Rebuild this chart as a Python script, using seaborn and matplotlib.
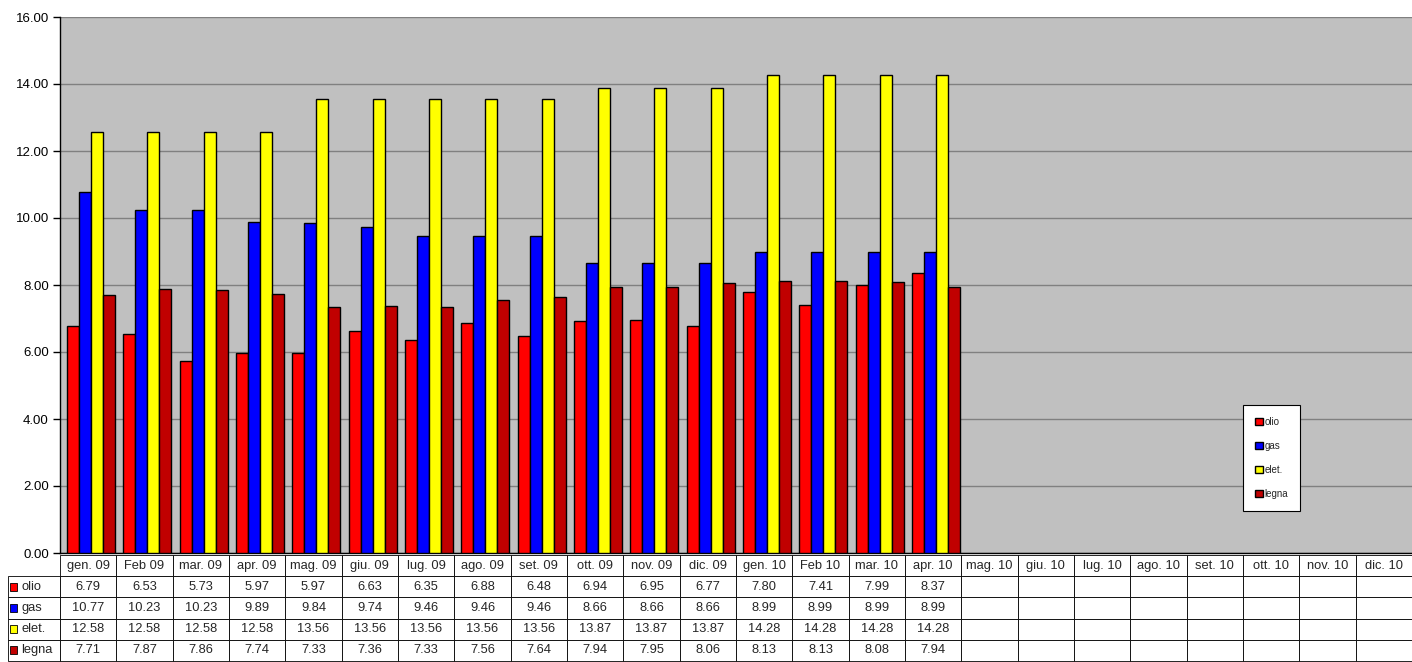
import numpy as np
import pandas as pd
import matplotlib
matplotlib.use("Agg")
import matplotlib.pyplot as plt
import seaborn as sns
from matplotlib.patches import Rectangle
from matplotlib.ticker import FormatStrFormatter

months = ["gen. 09", "Feb 09", "mar. 09", "apr. 09", "mag. 09", "giu. 09", "lug. 09",
          "ago. 09", "set. 09", "ott. 09", "nov. 09", "dic. 09", "gen. 10", "Feb 10",
          "mar. 10", "apr. 10", "mag. 10", "giu. 10", "lug. 10", "ago. 10", "set. 10",
          "ott. 10", "nov. 10", "dic. 10"]
olio = [6.79, 6.53, 5.73, 5.97, 5.97, 6.63, 6.35, 6.88, 6.48, 6.94, 6.95, 6.77, 7.80, 7.41, 7.99, 8.37]
gas = [10.77, 10.23, 10.23, 9.89, 9.84, 9.74, 9.46, 9.46, 9.46, 8.66, 8.66, 8.66, 8.99, 8.99, 8.99, 8.99]
elet = [12.58, 12.58, 12.58, 12.58, 13.56, 13.56, 13.56, 13.56, 13.56, 13.87, 13.87, 13.87, 14.28, 14.28, 14.28, 14.28]
legna = [7.71, 7.87, 7.86, 7.74, 7.33, 7.36, 7.33, 7.56, 7.64, 7.94, 7.95, 8.06, 8.13, 8.13, 8.08, 7.94]
series_names = ["olio", "gas", "elet.", "legna"]
series_values = [olio, gas, elet, legna]
colors = ["#FF0000", "#0000FF", "#FFFF00", "#C00000"]

rows = []
for name, vals in zip(series_names, series_values):
    for m, v in zip(months, vals):
        rows.append({"month": m, "series": name, "value": v})
df = pd.DataFrame(rows)

sns.set_theme(style="white")
plt.rcParams["font.family"] = ["Liberation Sans", "DejaVu Sans"]

fig = plt.figure(figsize=(14.12, 6.62), dpi=100)
ax = fig.add_axes([60 / 1412, 1 - 553 / 662, 1352 / 1412, 536 / 662])
ax.set_facecolor("#C0C0C0")

sns.barplot(data=df, x="month", y="value", hue="series", order=months,
            hue_order=series_names, palette=colors, width=0.85, saturation=1,
            edgecolor="black", linewidth=1.0, errorbar=None, ax=ax, zorder=3)

ax.set_xlim(-0.55, len(months) - 0.55)
ax.set_ylim(0, 16)
ax.set_yticks(np.arange(0, 16.01, 2))
ax.yaxis.set_major_formatter(FormatStrFormatter("%.2f"))
ax.grid(axis="y", color="#808080", linewidth=1, zorder=0)
ax.set_axisbelow(True)
ax.tick_params(axis="x", bottom=False, labelbottom=False)
ax.tick_params(axis="y", left=True, length=5, width=1, color="black",
               labelsize=9.5, labelcolor="black", pad=3)
ax.set_xlabel("")
ax.set_ylabel("")
for s in ["top", "right"]:
    ax.spines[s].set_visible(False)
ax.spines["left"].set_color("black")
ax.spines["left"].set_linewidth(1)
ax.spines["bottom"].set_color("black")
ax.spines["bottom"].set_linewidth(1)

# legend
sns.move_legend(ax, loc="upper right", bbox_to_anchor=(0.917, 0.276), title=None,
                frameon=True, fancybox=False, fontsize=7, labelspacing=1.45,
                handlelength=0.8, handleheight=0.8, handletextpad=0.2,
                borderpad=1.2, borderaxespad=0, framealpha=1)
leg = ax.get_legend()
leg.get_frame().set_edgecolor("black")
leg.get_frame().set_linewidth(0.8)
leg.get_frame().set_facecolor("white")
leg._legend_box.align = "left"

# data table
label_w = 52 / 1352
cell_text = []
for name, vals in zip(series_names, series_values):
    cell_text.append([name] + ["%.2f" % v for v in vals] + [""] * (len(months) - len(vals)))
col_labels = [""] + months
col_w = [52] + [1352 / len(months)] * len(months)
tb = ax.table(cellText=cell_text, colLabels=col_labels, colWidths=col_w,
              cellLoc="center", bbox=[-label_w, -108 / 536, 1 + label_w, 106 / 536])
tb.auto_set_font_size(False)
tb.set_fontsize(9.3)
for (r, c), cell in tb.get_celld().items():
    cell.set_edgecolor("black")
    cell.set_linewidth(0.6)
    cell.set_facecolor("white")
    if r == 0 and c == 0:
        cell.visible_edges = ""
    if c == 0 and r > 0:
        cell._loc = "left"
        cell.PAD = 0.25
        cell.get_text().set_horizontalalignment("left")

# coloured keys in the table row labels
row_h = 106 / 536 / 5
for i, col in enumerate(colors):
    yc = -108 / 536 + row_h * (3 - i) + row_h / 2
    ax.add_patch(Rectangle((-label_w + 2 / 1352, yc - 4 / 536), 7 / 1352, 8 / 536,
                           transform=ax.transAxes, facecolor=col, edgecolor="black",
                           linewidth=0.6, clip_on=False, zorder=10))

fig.savefig("out.png", dpi=100)
